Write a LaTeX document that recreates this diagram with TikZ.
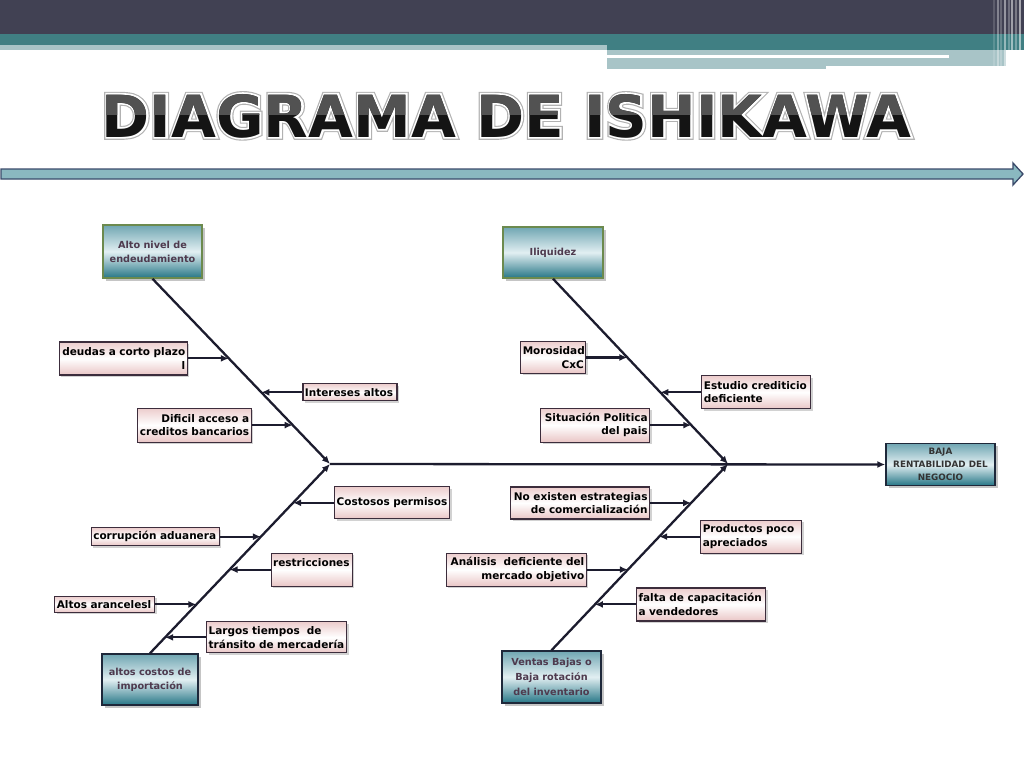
\documentclass[tikz,border=0pt]{standalone}
\usepackage{fontspec}
\setmainfont{DejaVu Sans}
\newfontfamily\titleringA[FakeBold=10]{DejaVu Sans Bold}
\newfontfamily\titleringB[FakeBold=6]{DejaVu Sans Bold}
\usetikzlibrary{arrows.meta, positioning, calc, shadows}
\definecolor{darkband}{RGB}{65,65,83}
\definecolor{tealband}{RGB}{64,127,131}
\definecolor{lightband}{RGB}{168,196,199}
\definecolor{arrowfill}{RGB}{138,184,192}
\definecolor{arrowline}{RGB}{58,74,106}
\definecolor{fishline}{RGB}{28,28,46}
\definecolor{tealtop}{RGB}{112,166,178}
\definecolor{tealmid}{RGB}{226,239,242}
\definecolor{tealbot}{RGB}{38,118,134}
\definecolor{olivebox}{RGB}{108,138,78}
\definecolor{navybox}{RGB}{30,40,58}
\definecolor{subpink}{RGB}{230,188,188}
\definecolor{subline}{RGB}{60,45,60}
\definecolor{maintext}{RGB}{78,58,78}
\newcommand{\fishsub}{\fontsize{10.5}{13.5}\selectfont\bfseries}
\newcommand{\fishmain}{\fontsize{9.7}{14}\selectfont\bfseries}
\newcommand{\fisheffect}{\fontsize{8.8}{13}\selectfont\bfseries}
\newcommand{\fishtitle}{\fontsize{58}{60}\selectfont}

\begin{document}
\begin{tikzpicture}[x=1pt, y=-1pt, >={Latex[length=8pt,width=7pt]}, node distance=41pt,
		mainbox/.style={draw=#1, line width=1.5pt, top color=tealtop, bottom color=tealbot, middle color=tealmid,
			align=center, font=\fishmain, text=maintext, inner sep=2pt,
			drop shadow={shadow xshift=2.5pt, shadow yshift=-2.5pt, fill=black!45}},
		mainbox/.default=navybox,
		subbox/.style={draw=subline, line width=1.2pt, top color=subpink!75!white, bottom color=subpink!85!white, middle color=white,
			font=\fishsub, inner xsep=2pt, inner ysep=2pt,
			drop shadow={shadow xshift=2pt, shadow yshift=-2pt, fill=black!35}},
		bone/.style={draw=fishline, line width=2.3pt, ->},
		twig/.style={draw=fishline, line width=2.1pt, ->},
		titletext/.style={font=\fishtitle, anchor=base, inner sep=0pt}]
	\useasboundingbox (0,0) rectangle (1024,768);
	% cabecera
	\fill[darkband] (0,0) rectangle (1024,34);
	\fill[tealband] (0,34) rectangle (1024,45);
	\fill[tealband] (607,45) rectangle (1024,50);
	\fill[lightband] (0,45) rectangle (607,50);
	\fill[lightband] (607,50) rectangle (1006,66);
	\fill[lightband] (607,66) rectangle (826,69);
	\fill[white] (607,55) rectangle (949,58);
	\foreach \x/\o in {994/.15,998/.35,1001/.2,1005/.45,1009/.25,1012/.5,1016/.3,1020/.55}
		\draw[white, opacity=\o, line width=1.5pt] (\x,0) -- (\x,68);
	% titulo
	\node[titletext, text=gray!60, font=\fishtitle\titleringA] (haloA) at (506.5,137) {DIAGRAMA DE ISHIKAWA};
	\node[titletext, text=white, font=\fishtitle\titleringB] (haloB) at (haloA.base) {DIAGRAMA DE ISHIKAWA};
	\node[titletext, text=black!92, font=\fishtitle\bfseries] (title) at (haloA.base) {DIAGRAMA DE ISHIKAWA};
	\begin{scope}
		\clip (0,80) rectangle (1024,114);
		\node[titletext, text=black!68, font=\fishtitle\bfseries] (titletop) at (haloA.base) {DIAGRAMA DE ISHIKAWA};
	\end{scope}
	% flecha
	\draw[arrowline, fill=arrowfill, line width=1.3pt] (1,169) -- (1013,169) -- (1013,163) -- (1023,174)
		-- (1013,185) -- (1013,179) -- (1,179) -- cycle;

	% categorias y efecto
	\node[mainbox=olivebox, minimum width=99pt, minimum height=53pt] (endeud) at (152.5,251.5) {Alto nivel de\\endeudamiento};
	\node[mainbox=olivebox, minimum width=100pt, minimum height=51pt] (liquidez) at (553,252.5) {Iliquidez};
	\node[mainbox, minimum width=96pt, minimum height=51pt] (importa) at (150,679.5) {altos costos de\\importación};
	\node[mainbox, minimum width=99pt, minimum height=52pt, font=\fontsize{9.7}{15}\selectfont\bfseries] (ventas) at (551.5,677) {Ventas Bajas o\\Baja rotación\\del inventario};
	\node[mainbox, minimum width=109pt, minimum height=42pt, font=\fisheffect, text=black!80] (efecto) at (940.5,464.5) {BAJA\\RENTABILIDAD DEL\\NEGOCIO};

	% espinas
	\coordinate (apexL) at (330,464);
	\coordinate (apexR) at (728,464);
	\draw[bone] (apexL) -- (efecto.west);
	\draw[bone] (endeud.south) -- (apexL);
	\draw[bone] (liquidez.south) -- (apexR);
	\draw[bone] (importa.north) -- (apexL);
	\draw[bone] (ventas.north) -- (apexR);

	% puntos sobre las espinas
	\foreach \t [count=\i] in {.430,.613,.790} \coordinate (ul\i) at ($(endeud.south)!\t!(apexL)$);
	\foreach \t [count=\i] in {.425,.613,.790} \coordinate (ur\i) at ($(liquidez.south)!\t!(apexR)$);
	\foreach \t [count=\i] in {.205,.384,.558,.742,.916} \coordinate (ll\i) at ($(apexL)!\t!(importa.north)$);
	\foreach \t [count=\i] in {.209,.390,.567,.754} \coordinate (lr\i) at ($(apexR)!\t!(ventas.north)$);

	% causas: endeudamiento
	\node[subbox, text width=124pt, minimum height=33pt, align=right, left=of ul1] (deudas) {deudas a corto plazo\\l};
	\node[subbox, text width=90pt, minimum height=17pt, align=left, right=of ul2] (intereses) {Intereses altos};
	\node[subbox, text width=110pt, minimum height=34pt, align=right, left=of ul3] (acceso) {Dificil acceso a\\creditos bancarios};
	\draw[twig] (deudas) -- (ul1);
	\draw[twig] (intereses) -- (ul2);
	\draw[twig] (acceso) -- (ul3);
	% causas: iliquidez
	\node[subbox, text width=61pt, minimum height=32pt, align=right, left=of ur1] (morosidad) {Morosidad\\CxC};
	\node[subbox, text width=105pt, minimum height=33pt, align=left, right=of ur2] (estudio) {Estudio crediticio\\deficiente};
	\node[subbox, text width=105pt, minimum height=34pt, align=right, left=of ur3] (situacion) {Situación Politica\\del pais};
	\draw[twig] (morosidad) -- (ur1);
	\draw[twig] (estudio) -- (ur2);
	\draw[twig] (situacion) -- (ur3);
	% causas: importacion
	\node[subbox, text width=111pt, minimum height=32pt, align=left, right=of ll1] (permisos) {Costosos permisos};
	\node[subbox, text width=124pt, minimum height=18pt, align=left, left=of ll2] (corrupcion) {corrupción aduanera};
	\node[subbox, text width=77pt, minimum height=33pt, align=left, right=of ll3] (restric) {restricciones\\\mbox{}};
	\node[subbox, text width=96pt, minimum height=16pt, align=left, left=of ll4] (aranceles) {Altos arancelesl};
	\node[subbox, text width=136pt, minimum height=31pt, align=left, right=of ll5] (transito) {Largos tiempos~\ de\\tránsito de mercadería};
	\draw[twig] (permisos) -- (ll1);
	\draw[twig] (corrupcion) -- (ll2);
	\draw[twig] (restric) -- (ll3);
	\draw[twig] (aranceles) -- (ll4);
	\draw[twig] (transito) -- (ll5);
	% causas: ventas
	\node[subbox, text width=135pt, minimum height=32pt, align=right, left=of lr1] (estrateg) {No existen estrategias\\de comercialización};
	\node[subbox, text width=97pt, minimum height=33pt, align=left, right=of lr2] (productos) {Productos poco\\apreciados};
	\node[subbox, text width=136pt, minimum height=33pt, align=right, left=of lr3] (analisis) {Análisis~\ deficiente del\\mercado objetivo};
	\node[subbox, text width=125pt, minimum height=33pt, align=left, right=of lr4] (capacit) {falta de capacitación\\a vendedores};
	\draw[twig] (estrateg) -- (lr1);
	\draw[twig] (productos) -- (lr2);
	\draw[twig] (analisis) -- (lr3);
	\draw[twig] (capacit) -- (lr4);
\end{tikzpicture}
\end{document}
